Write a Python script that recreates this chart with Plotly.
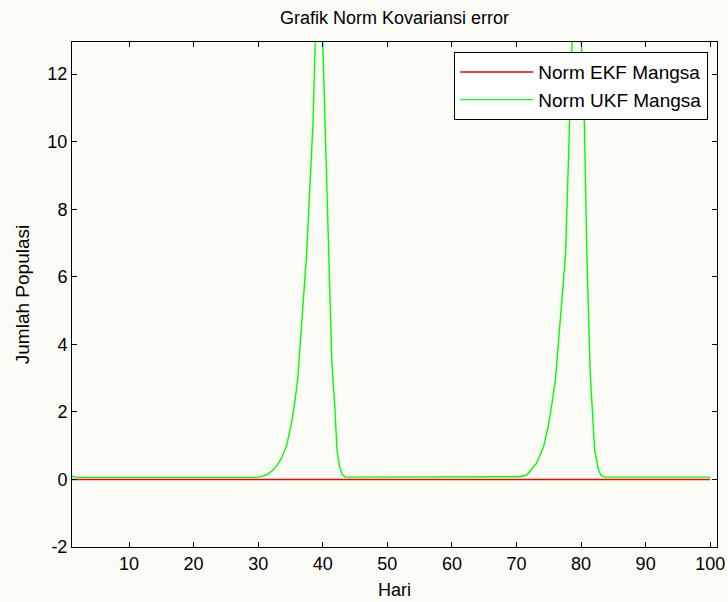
import plotly.graph_objects as go

# Data
ekf_days = [1, 100]
ekf_norm = [0.0, 0.0]

ukf_days = [1, 1.5, 2, 29.7, 30.6, 31.5, 32.3, 33.0, 33.6, 34.4, 35.2, 35.7, 36.1,
            37.5, 38.5, 39.4, 40.3, 40.85, 41.4, 41.9, 42.2, 42.6, 43.0, 43.5,
            69.5, 70.5, 71.6, 73.1, 74.2, 74.9, 75.5, 76.05, 77.6, 78.3, 79.25,
            80.5, 80.9, 81.4, 81.7, 82.1, 82.7, 83.1, 83.6, 100]
ukf_norm = [0.1, 0.07, 0.06, 0.06, 0.09, 0.16, 0.28, 0.44, 0.63, 1.0, 1.7, 2.35, 2.93,
            6.67, 10.6, 17.0, 10.6, 6.67, 3.5, 2.05, 0.87, 0.38, 0.15, 0.07,
            0.06, 0.08, 0.13, 0.48, 0.97, 1.56, 2.25, 3.0, 6.67, 10.6, 17.0,
            10.6, 6.67, 3.2, 2.05, 0.87, 0.28, 0.12, 0.07, 0.07]

x_ticks = [10, 20, 30, 40, 50, 60, 70, 80, 90, 100]
y_ticks = [-2, 0, 2, 4, 6, 8, 10, 12]
y_tick_labels = ["-2", "0", "2", "4", "6", "8", "10", "12"]

FONT = "Liberation Sans, Arial, Helvetica, sans-serif"
BG = "#fcfcf7"

fig = go.Figure()
fig.add_trace(go.Scatter(x=ekf_days, y=ekf_norm, mode="lines", name="Norm EKF Mangsa",
                         line=dict(color="#ff0000", width=1.5)))
fig.add_trace(go.Scatter(x=ukf_days, y=ukf_norm, mode="lines", name="Norm UKF Mangsa",
                         line=dict(color="#00ff00", width=1.4)))

axis_common = dict(showline=True, linecolor="black", linewidth=1, mirror="ticks",
                   ticks="inside", ticklen=5, tickcolor="black", tickwidth=1,
                   showgrid=False, zeroline=False,
                   tickfont=dict(family=FONT, size=18, color="black"))

fig.update_xaxes(range=[1.17, 101.05], tickvals=x_ticks,
                 title=dict(text="Hari", font=dict(family=FONT, size=18, color="black"), standoff=10),
                 **axis_common)
fig.update_yaxes(range=[-2, 12.95], tickvals=y_ticks, ticktext=y_tick_labels,
                 title=dict(text="Jumlah Populasi", font=dict(family=FONT, size=19, color="black"), standoff=12),
                 **axis_common)

fig.update_layout(
    width=728, height=602,
    margin=dict(l=72, r=11, t=42, b=55, autoexpand=False),
    paper_bgcolor=BG, plot_bgcolor=BG,
    title=dict(text="Grafik Norm Kovariansi error", x=0.5, xref="paper", xanchor="center",
               y=0.97, yref="container", yanchor="middle",
               font=dict(family=FONT, size=18, color="black")),
    legend=dict(x=0.9865, y=0.98, xanchor="right", yanchor="top",
                bgcolor="white", bordercolor="black", borderwidth=1,
                font=dict(family=FONT, size=19, color="black"),
                itemwidth=73, tracegroupgap=0),
    showlegend=True,
)

fig.write_html("out.html", config={"displayModeBar": False},
               post_script="document.body.style.margin='0';")
